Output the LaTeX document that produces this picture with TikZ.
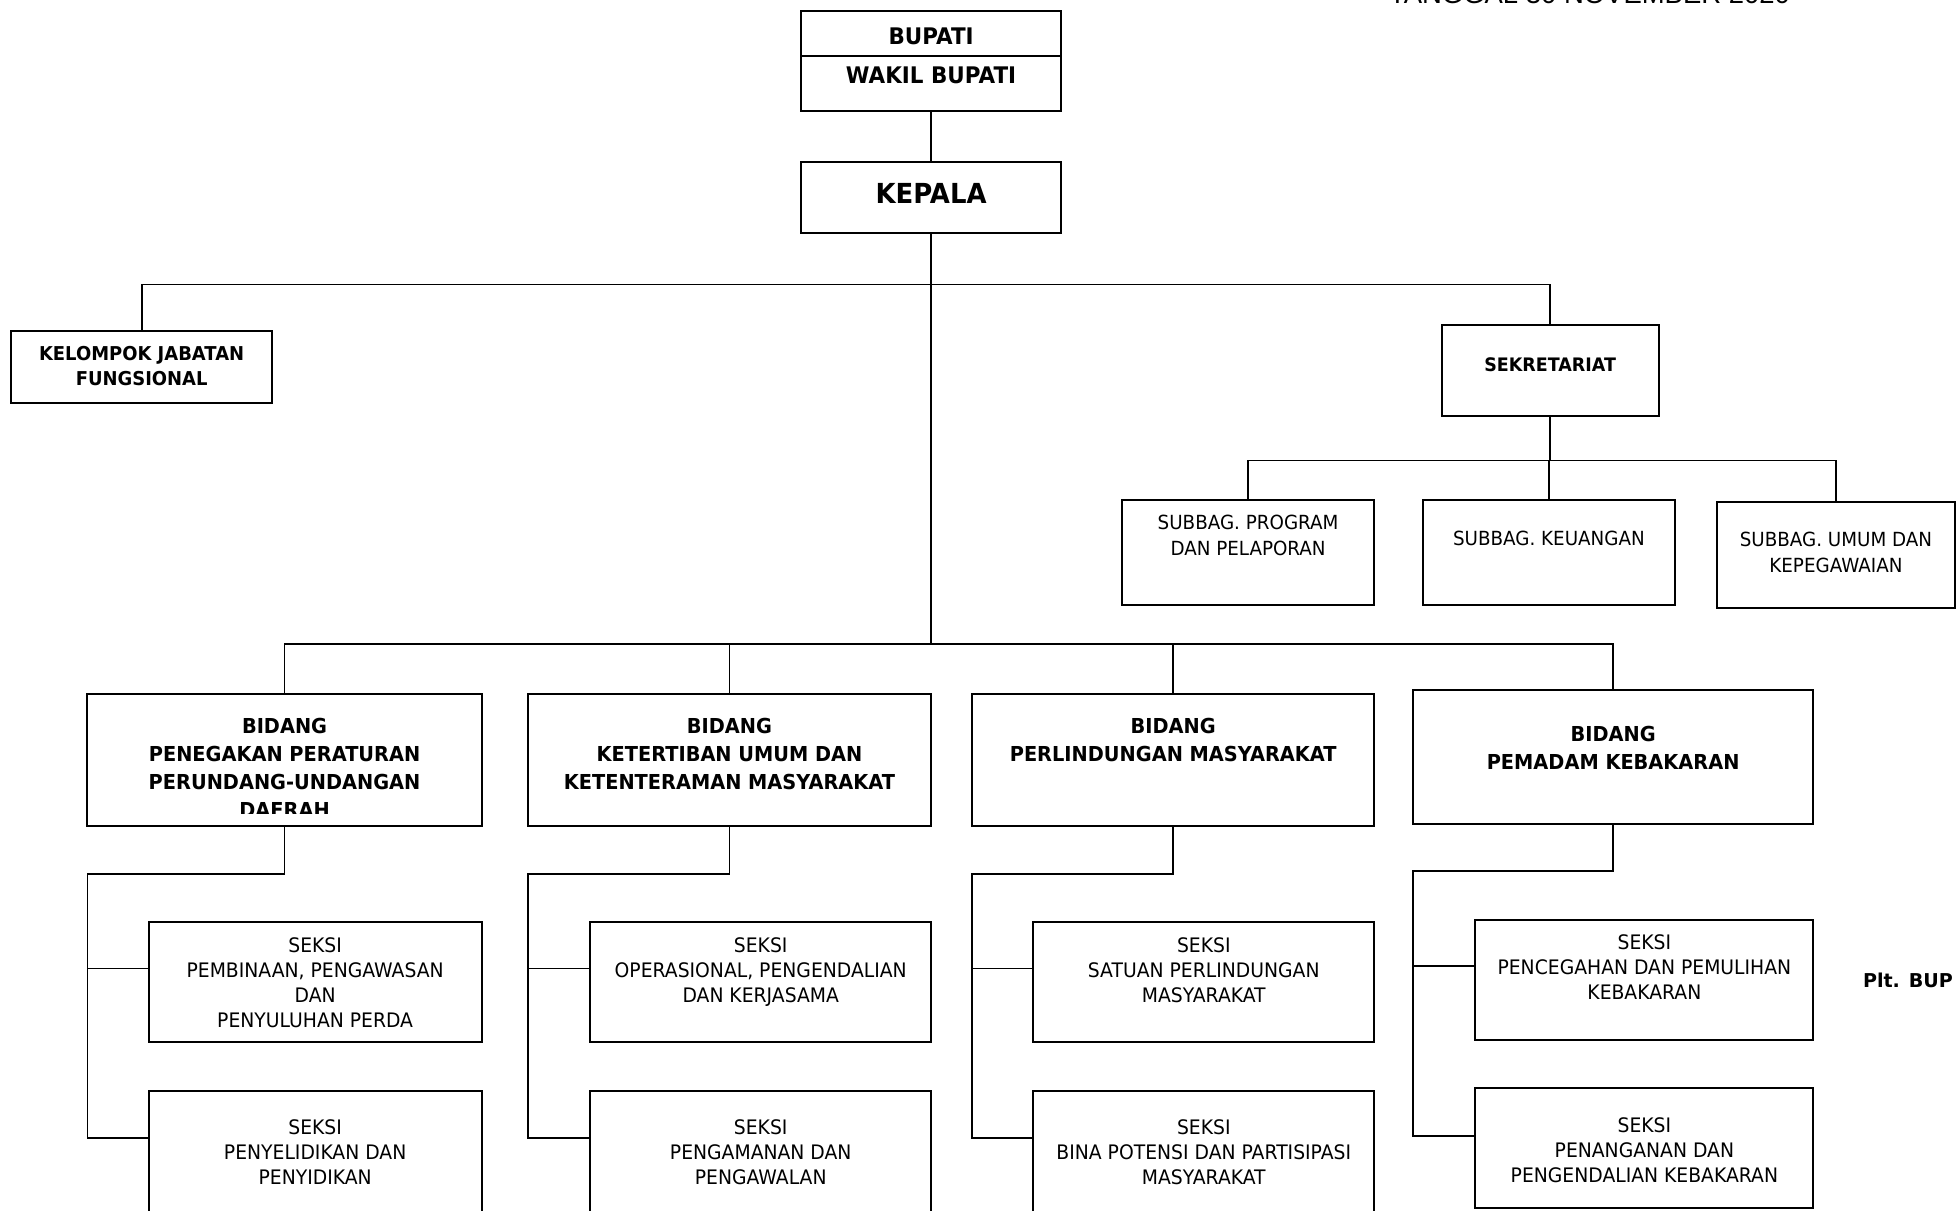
\documentclass[tikz,border=0pt]{standalone}
\usepackage{fontspec}
\setmainfont{DejaVu Sans}[FakeStretch=0.94]
\newfontfamily\topfont{Liberation Sans}
\newfontfamily\wideb{DejaVu Sans}
\begin{document}
\begin{tikzpicture}[x=1pt,y=-1pt]
\tikzset{
  box/.style={draw, rectangle, line width=1.6pt, inner sep=0pt, outer sep=0pt},
  conn/.style={line width=1.35pt},
  lbl/.style={align=center, inner sep=0pt, anchor=north},
  sektxt/.style={lbl, font=\fontsize{16}{20}\selectfont},
  subtxt/.style={lbl, font=\fontsize{15.6}{21}\selectfont},
  bidtxt/.style={lbl, font=\bfseries\fontsize{16.5}{22.4}\selectfont},
  smallbold/.style={lbl, font=\bfseries\fontsize{15.3}{20}\selectfont},
}
\fill[white] (0,0) rectangle (1568,970);
\useasboundingbox (0,0) rectangle (1568,970);

% top (clipped) heading
\node[anchor=base, inner sep=0pt, font=\topfont\fontsize{22}{26}\selectfont] (tgl) at (1273.5,2.4) {TANGGAL 30 NOVEMBER 2020};

% boxes
\node[box, minimum width=208, minimum height=80] (bupati) at (746,49) {};
\draw[line width=1.6pt] (bupati.west |- 0,45) -- (bupati.east |- 0,45);
\node[box, minimum width=208, minimum height=57] (kepala) at (746,158.5) {};
\node[box, minimum width=209, minimum height=58] (kjf) at (113.5,294) {};
\node[box, minimum width=174, minimum height=73] (sekr) at (1242,296.5) {};
\node[box, minimum width=202, minimum height=84] (sub1) at (1000,443) {};
\node[box, minimum width=202, minimum height=84] (sub2) at (1241,443) {};
\node[box, minimum width=190, minimum height=85] (sub3) at (1471,444.5) {};
\node[box, minimum width=316, minimum height=106] (bid1) at (228,609) {};
\node[box, minimum width=323, minimum height=106] (bid2) at (584.5,609) {};
\node[box, minimum width=322, minimum height=106] (bid3) at (940,609) {};
\node[box, minimum width=321, minimum height=107] (bid4) at (1292.5,606.5) {};
\node[box, minimum width=267, minimum height=96] (s11) at (252.5,787) {};
\node[box, minimum width=267, minimum height=102] (s12) at (252.5,925) {};
\node[box, minimum width=273, minimum height=96] (s21) at (609.5,787) {};
\node[box, minimum width=273, minimum height=102] (s22) at (609.5,925) {};
\node[box, minimum width=273, minimum height=96] (s31) at (964.5,787) {};
\node[box, minimum width=273, minimum height=102] (s32) at (964.5,925) {};
\node[box, minimum width=271, minimum height=96] (s41) at (1317.5,785) {};
\node[box, minimum width=271, minimum height=96] (s42) at (1317.5,920) {};

% texts
\node[lbl, font=\bfseries\fontsize{18.3}{22}\selectfont] (tbup) at (746,22.3) {BUPATI};
\node[lbl, font=\bfseries\fontsize{18.3}{22}\selectfont] (twak) at (746,53.3) {WAKIL BUPATI};
\node[lbl, font=\bfseries\fontsize{22.1}{26}\selectfont] (tkep) at (746,146.9) {KEPALA};
\node[smallbold] (tkjf) at (113.5,277.4) {KELOMPOK JABATAN\\FUNGSIONAL};
\node[lbl, font=\bfseries\fontsize{14.9}{20}\selectfont] (tsek) at (1242,286.6) {SEKRETARIAT};
\node[subtxt] (tsub1) at (1000,412.3) {SUBBAG. PROGRAM\\DAN PELAPORAN};
\node[subtxt] (tsub2) at (1241,425.3) {SUBBAG. KEUANGAN};
\node[subtxt] (tsub3) at (1471,426.3) {SUBBAG. UMUM DAN\\KEPEGAWAIAN};
\begin{scope}
\clip (70,556) rectangle (386,652);
\node[bidtxt] (tbid1) at (228,575) {BIDANG\\PENEGAKAN PERATURAN\\PERUNDANG-UNDANGAN\\DAERAH};
\end{scope}
\node[bidtxt] (tbid2) at (584.5,575) {BIDANG\\KETERTIBAN UMUM DAN\\KETENTERAMAN MASYARAKAT};
\node[bidtxt] (tbid3) at (940,575) {BIDANG\\PERLINDUNGAN MASYARAKAT};
\node[bidtxt] (tbid4) at (1292.5,582) {BIDANG\\PEMADAM KEBAKARAN};
\node[sektxt] (ts11) at (252.5,751) {SEKSI\\PEMBINAAN, PENGAWASAN\\DAN\\PENYULUHAN PERDA};
\node[sektxt] (ts12) at (252.5,897) {SEKSI\\PENYELIDIKAN DAN\\PENYIDIKAN};
\node[sektxt] (ts21) at (609.5,751) {SEKSI\\OPERASIONAL, PENGENDALIAN\\DAN KERJASAMA};
\node[sektxt] (ts22) at (609.5,897) {SEKSI\\PENGAMANAN DAN\\PENGAWALAN};
\node[sektxt] (ts31) at (964.5,751) {SEKSI\\SATUAN PERLINDUNGAN\\MASYARAKAT};
\node[sektxt] (ts32) at (964.5,897) {SEKSI\\BINA POTENSI DAN PARTISIPASI\\MASYARAKAT};
\node[sektxt] (ts41) at (1317.5,749) {SEKSI\\PENCEGAHAN DAN PEMULIHAN\\KEBAKARAN};
\node[sektxt] (ts42) at (1317.5,895) {SEKSI\\PENANGANAN DAN\\PENGENDALIAN KEBAKARAN};
\node[lbl, anchor=north west, font=\wideb\bfseries\fontsize{15.3}{20}\selectfont] (plt) at (1492.5,779.4) {Plt. BUP};

% connectors
\draw[conn] (bupati.south) -- (kepala.north);
\draw[conn] (kepala.south) -- (kepala.south |- 0,516);
\draw[conn] (kjf.north) -- (kjf.north |- 0,228) -- (sekr.north |- 0,228) -- (sekr.north);
\draw[conn] (sekr.south) -- (sekr.south |- 0,369);
\draw[conn] (sub1.north) -- (sub1.north |- 0,369) -- (sub3.north |- 0,369) -- (sub3.north);
\draw[conn] (sub2.north) -- (sub2.north |- 0,369);
\draw[conn] (bid1.north) -- (bid1.north |- 0,516) -- (bid4.north |- 0,516) -- (bid4.north);
\draw[conn] (bid2.north) -- (bid2.north |- 0,516);
\draw[conn] (bid3.north) -- (bid3.north |- 0,516);

\draw[conn] (bid1.south) -- (bid1.south |- 0,700) -- (bid1.west |- 0,700) -- (bid1.west |- 0,912) -- (s12.west |- 0,912);
\draw[conn] (bid1.west |- 0,776) -- (s11.west |- 0,776);
\draw[conn] (bid2.south) -- (bid2.south |- 0,700) -- (bid2.west |- 0,700) -- (bid2.west |- 0,912) -- (s22.west |- 0,912);
\draw[conn] (bid2.west |- 0,776) -- (s21.west |- 0,776);
\draw[conn] (bid3.south) -- (bid3.south |- 0,700) -- (bid3.west |- 0,700) -- (bid3.west |- 0,912) -- (s32.west |- 0,912);
\draw[conn] (bid3.west |- 0,776) -- (s31.west |- 0,776);
\draw[conn] (bid4.south) -- (bid4.south |- 0,698) -- (bid4.west |- 0,698) -- (bid4.west |- 0,910) -- (s42.west |- 0,910);
\draw[conn] (bid4.west |- 0,774) -- (s41.west |- 0,774);
\end{tikzpicture}
\end{document}
